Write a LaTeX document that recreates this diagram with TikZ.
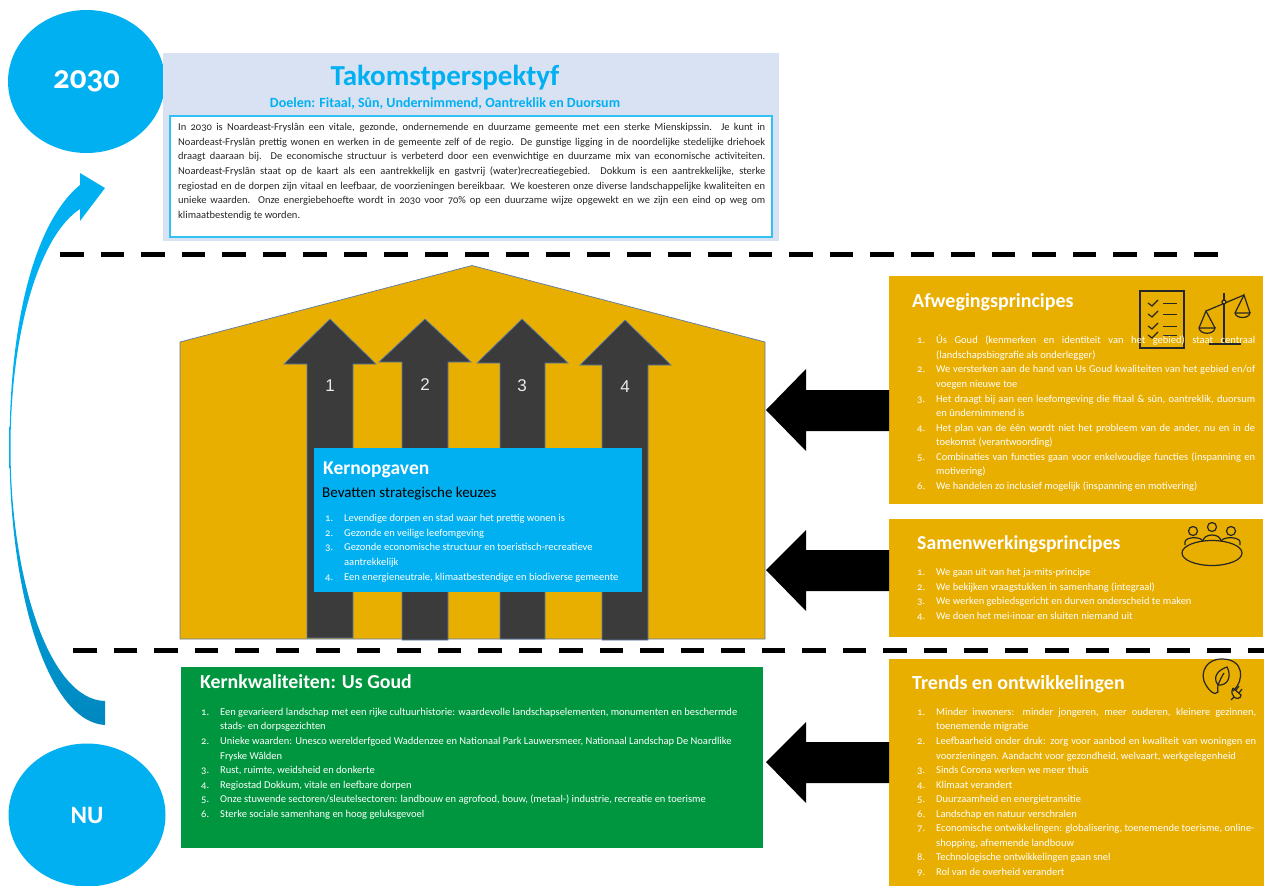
\documentclass[tikz,border=0pt]{standalone}
\usepackage{fontspec}
\usetikzlibrary{shapes.geometric}
\setmainfont[Numbers=OldStyle]{Carlito}
\newfontfamily\arialf{Liberation Sans}
\definecolor{gold}{HTML}{E8AE00}
\definecolor{sky}{HTML}{00B0F0}
\definecolor{paleblue}{HTML}{D9E2F3}
\definecolor{leaf}{HTML}{00963F}
\definecolor{slate}{HTML}{3B3B3B}
\definecolor{edgeblue}{HTML}{5B7BAA}
\definecolor{deepsky}{HTML}{0088BF}
\newcommand{\numw}{19pt}
\newcommand{\itm}[2]{\strut\makebox[\numw][l]{#1}#2\\}
\newcommand{\jtm}[3]{\strut\makebox[\numw][l]{#1}\makebox[#2][s]{#3}\\}
\newcommand{\jln}[2]{\strut\makebox[#1][s]{#2}\\}
\begin{document}
\begin{tikzpicture}[x=1pt,y=-1pt,
  panel/.style={anchor=north west,inner sep=0pt,outer sep=0pt,minimum width=#1},
  disc/.style={ellipse,fill=sky,inner sep=0pt,minimum width=157pt,minimum height=143pt,text=white,font=\bfseries\fontsize{33}{36}\selectfont},
  bodytext/.style={anchor=north west,inner sep=0pt,align=left,text=#1,font=\fontsize{10.5}{14.55}\selectfont},
  headtext/.style={anchor=west,inner sep=0pt,text=white,font=\bfseries\fontsize{20}{24}\selectfont},
  roofarrow/.style={fill=slate,draw=edgeblue,line width=0.7pt},
  arrownum/.style={inner sep=0pt,text=white!92!black,font=\arialf\fontsize{17}{20}\selectfont},
  blockarrow/.style={fill=black},
  divider/.style={line width=5pt,dash pattern=on 23.5pt off 17pt},
  iconline/.style={draw=black!85,line width=1.2pt,fill=none}]
\useasboundingbox (0,0) rectangle (1264,886);
\fill[white] (0,0) rectangle (1264,886);

% discs
\node[disc] (y2030) at (86.5,81.5) {\raisebox{-4pt}{2030}};
\node[disc,font=\bfseries\fontsize{25}{28}\selectfont] (now) at (87,815) {NU};

% curved arrow
\shade[top color=sky,bottom color=deepsky,middle color=sky]
 (105,725) .. controls (50,722) and (9.5,600) .. (9.5,448)
 .. controls (9.5,320) and (35,222) .. (80,185)
 -- (80,173) -- (105,188) -- (80,221) -- (80,209)
 .. controls (40,235) and (10.5,330) .. (10.5,448)
 .. controls (10.5,580) and (50,700) .. (105,701) -- cycle;

% dividers
\draw[divider] (60,254) -- (1218,254);
\draw[divider] (73,650) -- (1264,650);

% top panel
\node[panel=616pt,minimum height=188pt,fill=paleblue] (vision) at (163,53) {};
\node[panel=602pt,minimum height=121pt,fill=white,draw=sky!80!white,line width=1.3pt] (visionbox) at (170,116) {};
\node[inner sep=0pt,text=sky,font=\bfseries\fontsize{29}{32}\selectfont] (visiontitle) at (445,78) {Takomstperspektyf};
\node[inner sep=0pt,text=sky,font=\bfseries\fontsize{14}{16}\selectfont] (visionsub) at (445,103.5) {Doelen: Fitaal, Sûn, Undernimmend, Oantreklik en Duorsum};
\node[bodytext=black!85] (visiontext) at (178,120.5) {%
\jln{587pt}{In 2030 is Noardeast-Fryslân een vitale, gezonde, ondernemende en duurzame gemeente met een sterke Mienskipssin. Je kunt in}
\jln{587pt}{Noardeast-Fryslân prettig wonen en werken in de gemeente zelf of de regio. De gunstige ligging in de noordelijke stedelijke driehoek}
\jln{587pt}{draagt daaraan bij. De economische structuur is verbeterd door een evenwichtige en duurzame mix van economische activiteiten.}
\jln{587pt}{Noardeast-Fryslân staat op de kaart als een aantrekkelijk en gastvrij (water)recreatiegebied. Dokkum is een aantrekkelijke, sterke}
\jln{587pt}{regiostad en de dorpen zijn vitaal en leefbaar, de voorzieningen bereikbaar. We koesteren onze diverse landschappelijke kwaliteiten en}
\jln{587pt}{unieke waarden. Onze energiebehoefte wordt in 2030 voor 70\% op een duurzame wijze opgewekt en we zijn een eind op weg om}
\strut klimaatbestendig te worden.};

% house
\fill[gold,draw=edgeblue,line width=0.7pt] (180,639) -- (180,342) -- (472,265.5) -- (765,342) -- (765,639) -- cycle;
\draw[roofarrow] (307,638) -- (307,364) -- (284,364) -- (330,319) -- (376,364) -- (353,364) -- (353,638) -- cycle;
\draw[roofarrow] (402,640) -- (402,362) -- (379,362) -- (425,319) -- (471,362) -- (448,362) -- (448,640) -- cycle;
\draw[roofarrow] (500,639) -- (500,363) -- (477,363) -- (522,319) -- (568,363) -- (545,363) -- (545,639) -- cycle;
\draw[roofarrow] (602,640) -- (602,365) -- (580,365) -- (625,320) -- (671,365) -- (648,365) -- (648,640) -- cycle;
\node[arrownum] (n1) at (330,386) {1};
\node[arrownum] (n2) at (425,385) {2};
\node[arrownum] (n3) at (522,386) {3};
\node[arrownum] (n4) at (625,387) {4};

% Kernopgaven
\node[panel=328pt,minimum height=144pt,fill=sky] (core) at (313.5,448) {};
\node[headtext,font=\bfseries\fontsize{19.5}{22}\selectfont] (coretitle) at (323,470) {Kernopgaven};
\node[anchor=west,inner sep=0pt,text=black,font=\fontsize{15}{17}\selectfont] (coresub) at (322,494) {Bevatten strategische keuzes};
\node[bodytext=white] (corelist) at (325,511.5) {%
\itm{1.}{Levendige dorpen en stad waar het prettig wonen is}
\itm{2.}{Gezonde en veilige leefomgeving}
\itm{3.}{Gezonde economische structuur en toeristisch-recreatieve}
\strut\hspace{\numw}aantrekkelijk\\
\itm{4.}{Een energieneutrale, klimaatbestendige en biodiverse gemeente}};

% Afwegingsprincipes
\node[panel=374pt,minimum height=228pt,fill=gold] (weigh) at (889,276) {};
\node[headtext] (weightitle) at (912,302) {Afwegingsprincipes};

% icons: checklist and scales
\draw[iconline] (1140,291) rectangle (1184,348);
\foreach \yy in {303,314,326,335} {
  \draw[iconline] (1148,\yy) -- (1152,\yy+3) -- (1158,\yy-3);
  \draw[iconline] (1163,\yy+0.5) -- (1177,\yy+0.5);
}
\draw[iconline] (1224,293) -- (1224,344);
\draw[iconline] (1209,344) -- (1241,344);
\draw[iconline] (1206,311) -- (1244,295);
\draw[iconline,fill=gold] (1224,302) circle (2);
\draw[iconline] (1199,328) -- (1206,311) -- (1215,328);
\draw[iconline] (1199,328) -- (1215,328) .. controls (1214,335) and (1200,335) .. (1199,328);
\draw[iconline] (1235,313) -- (1244,295) -- (1250,313);
\draw[iconline] (1235,313) -- (1250,313) .. controls (1249,319) and (1236,319) .. (1235,313);

\node[bodytext=white] (weighlist) at (917,333.5) {%
\jtm{1.}{319pt}{Ús Goud (kenmerken en identiteit van het gebied) staat centraal}
\strut\hspace{\numw}(landschapsbiografie als onderlegger)\\
\jtm{2.}{319pt}{We versterken aan de hand van Us Goud kwaliteiten van het gebied en/of}
\strut\hspace{\numw}voegen nieuwe toe\\
\jtm{3.}{319pt}{Het draagt bij aan een leefomgeving die fitaal \& sûn, oantreklik, duorsum}
\strut\hspace{\numw}en ûndernimmend is\\
\jtm{4.}{319pt}{Het plan van de één wordt niet het probleem van de ander, nu en in de}
\strut\hspace{\numw}toekomst (verantwoording)\\
\jtm{5.}{319pt}{Combinaties van functies gaan voor enkelvoudige functies (inspanning en}
\strut\hspace{\numw}motivering)\\
\itm{6.}{We handelen zo inclusief mogelijk (inspanning en motivering)}};

% Samenwerkingsprincipes
\node[panel=374pt,minimum height=118pt,fill=gold] (together) at (889,519) {};
\node[headtext,font=\bfseries\fontsize{19.7}{24}\selectfont] (togethertitle) at (917,544) {Samenwerkingsprincipes};
\node[bodytext=white] (togetherlist) at (917,565.5) {%
\itm{1.}{We gaan uit van het ja-mits-principe}
\itm{2.}{We bekijken vraagstukken in samenhang (integraal)}
\itm{3.}{We werken gebiedsgericht en durven onderscheid te maken}
\itm{4.}{We doen het mei-inoar en sluiten niemand uit}};

% icon: meeting table
\draw[iconline] (1212,553) ellipse (30 and 12.5);
\draw[iconline] (1193,531) circle (4.5);
\draw[iconline] (1212,527) circle (4.5);
\draw[iconline] (1231,531) circle (4.5);
\draw[iconline] (1185,545) -- (1185,542) .. controls (1185,537) and (1200,536) .. (1203,541);
\draw[iconline] (1203,541) .. controls (1204,533) and (1220,533) .. (1221,541);
\draw[iconline] (1221,541) .. controls (1224,536) and (1240,537) .. (1240,542) -- (1240,545);

% Trends
\node[panel=375pt,minimum height=227pt,fill=gold] (trends) at (889,659) {};
\node[headtext] (trendstitle) at (912,684) {Trends en ontwikkelingen};
\node[bodytext=white] (trendslist) at (917,705) {%
\jtm{1.}{320pt}{Minder inwoners: minder jongeren, meer ouderen, kleinere gezinnen,}
\strut\hspace{\numw}toenemende migratie\\
\jtm{2.}{320pt}{Leefbaarheid onder druk: zorg voor aanbod en kwaliteit van woningen en}
\strut\hspace{\numw}voorzieningen. Aandacht voor gezondheid, welvaart, werkgelegenheid\\
\itm{3.}{Sinds Corona werken we meer thuis}
\itm{4.}{Klimaat verandert}
\itm{5.}{Duurzaamheid en energietransitie}
\itm{6.}{Landschap en natuur verschralen}
\itm{7.}{Economische ontwikkelingen: globalisering, toenemende toerisme, online-}
\strut\hspace{\numw}shopping, afnemende landbouw\\
\itm{8.}{Technologische ontwikkelingen gaan snel}
\itm{9.}{Rol van de overheid verandert}};

% icon: leaf and plug
\draw[iconline] (1233,691) .. controls (1245,680) and (1244,659) .. (1222,659)
  .. controls (1206,659) and (1201,672) .. (1204,681)
  .. controls (1207,689) and (1215,697) .. (1218,692) .. controls (1219,690) and (1216,688) .. (1218,685);
\draw[iconline] (1218,685) .. controls (1212,677) and (1218,670) .. (1227,667) .. controls (1232,676) and (1228,686) .. (1218,685);
\draw[iconline] (1218,685) .. controls (1220,680) and (1222,676) .. (1224,673);
\draw[iconline] (1233,688) -- (1241,695) .. controls (1241,699) and (1236,699) .. (1234,697) .. controls (1232,695) and (1231,692) .. (1233,688);
\draw[iconline] (1236,690) -- (1239,686);
\draw[iconline] (1239,693) -- (1242,689);
\draw[iconline] (1234,697) -- (1231,700);

% Kernkwaliteiten
\node[panel=582pt,minimum height=181pt,fill=leaf] (gold) at (181,667) {};
\node[headtext,font=\bfseries\fontsize{19.8}{24}\selectfont] (goldtitle) at (200,682) {Kernkwaliteiten: Us Goud};
\node[bodytext=white] (goldlist) at (201,705) {%
\itm{1.}{Een gevarieerd landschap met een rijke cultuurhistorie: waardevolle landschapselementen, monumenten en beschermde}
\strut\hspace{\numw}stads- en dorpsgezichten\\
\itm{2.}{Unieke waarden: Unesco werelderfgoed Waddenzee en Nationaal Park Lauwersmeer, Nationaal Landschap De Noardlike}
\strut\hspace{\numw}Fryske Wâlden\\
\itm{3.}{Rust, ruimte, weidsheid en donkerte}
\itm{4.}{Regiostad Dokkum, vitale en leefbare dorpen}
\itm{5.}{Onze stuwende sectoren/sleutelsectoren: landbouw en agrofood, bouw, (metaal-) industrie, recreatie en toerisme}
\itm{6.}{Sterke sociale samenhang en hoog geluksgevoel}};

% block arrows
\fill[blockarrow] (766,410) -- (806,369) -- (806,390) -- (889,390) -- (889,431) -- (806,431) -- (806,451) -- cycle;
\fill[blockarrow] (766,570) -- (806,530) -- (806,550) -- (889,550) -- (889,591) -- (806,591) -- (806,611) -- cycle;
\fill[blockarrow] (766,762) -- (806,722) -- (806,742) -- (889,742) -- (889,783) -- (806,783) -- (806,803) -- cycle;
\end{tikzpicture}
\end{document}
